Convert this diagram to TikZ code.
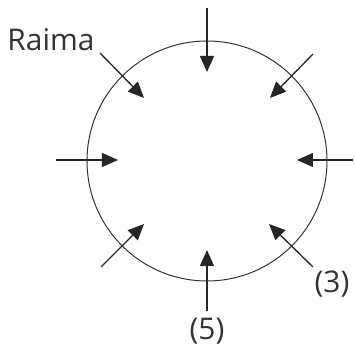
\documentclass[tikz,border=0pt]{standalone}
\usepackage{fontspec}
\setmainfont{Open Sans}
\usetikzlibrary{arrows.meta}
\tikzset{
    seat/.style={-{Stealth[length=12pt,width=10.5pt,inset=0pt]}, line width=1pt, black!85},
    seatlabel/.style={font=\fontsize{22.4}{26}\selectfont, text=black!80, inner sep=0pt}
}
\begin{document}
\begin{tikzpicture}[x=0.75pt,y=-0.75pt]
    \useasboundingbox (0,0) rectangle (355,352);

    % Table
    \draw[line width=0.75pt, black!80] (207,161) circle (120);

    % Free ends
    \coordinate (topout) at (207,8);
    \coordinate (topin) at (207,72);
    \coordinate (urout) at (313,54);
    \coordinate (urin) at (270,98);
    \coordinate (rightout) at (353,160);
    \coordinate (rightin) at (297,160);
    \coordinate (lrout) at (313,267);
    \coordinate (lrin) at (269,224);
    \coordinate (botout) at (207,311);
    \coordinate (botin) at (207,250);
    \coordinate (llout) at (101,267);
    \coordinate (llin) at (144,224);
    \coordinate (leftout) at (56,160);
    \coordinate (leftin) at (118,160);
    \coordinate (ulout) at (100,53);
    \coordinate (ulin) at (144,98);

    \draw[seat] (topout) -- (topin);
    \draw[seat] (urout) -- (urin);
    \draw[seat] (rightout) -- (rightin);
    \draw[seat] (lrout) -- (lrin);
    \draw[seat] (botout) -- (botin);
    \draw[seat] (llout) -- (llin);
    \draw[seat] (leftout) -- (leftin);
    \draw[seat] (ulout) -- (ulin);

    \node[seatlabel] (raima) at (51,40) {Raima};
    \node[seatlabel] (three) at (332,284) {(3)};
    \node[seatlabel] (five) at (207,331) {(5)};
\end{tikzpicture}
\end{document}
